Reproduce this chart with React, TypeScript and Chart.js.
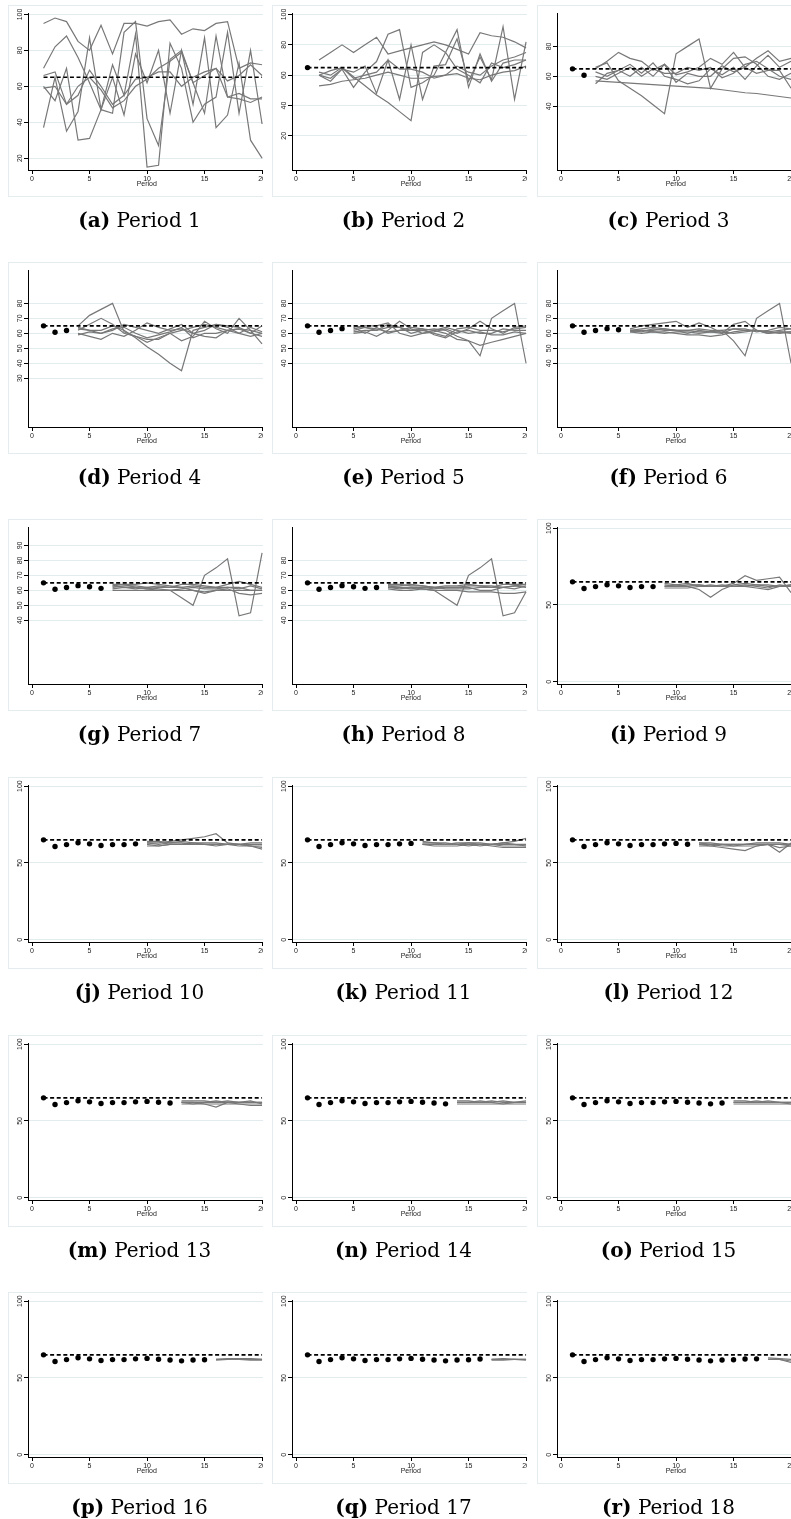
import React, { useEffect, useRef } from "react";
import { Chart, registerables } from "chart.js";
Chart.register(...registerables);

// ---------- data ----------
const X_TICKS = [0, 5, 10, 15, 20];
const TARGET = 65;
// mean of all players, periods 1..17
const AVG = [65, 60.7, 61.9, 63.1, 62.4, 61.3, 61.9, 61.9, 62.4, 62.7, 62.1, 61.6, 61.1, 61.6, 61.8, 62.3, 62.4];

const YT_A = [20, 40, 60, 80, 100];
const YT_C = [40, 60, 80];
const YT_D = [30, 40, 50, 60, 70, 80];
const YT_E = [40, 50, 60, 70, 80];
const YT_G = [40, 50, 60, 70, 80, 90];
const YT_I = [0, 50, 100];

// individual paths, each starting at the panel's period
const P1 = [
  [95, 98, 96, 85, 80, 94, 78, 95, 95, 93.5, 96, 97, 89, 92, 91, 95, 96, 70, 73, 72],
  [70, 82, 88, 76, 62, 47, 45, 90, 96, 42, 27, 75, 80, 62, 66, 70, 54, 53, 51, 54],
  [37, 65, 35, 46, 87, 47, 72, 55, 89, 15, 16, 84, 70, 40, 50, 54, 90, 45, 80, 39],
  [60, 52, 70, 30, 31, 47, 65, 44, 78, 62, 80, 45, 80, 50, 87, 37, 44, 73, 30, 20],
  [59, 60, 50, 55, 69, 60, 50, 55, 64, 65, 68, 68, 60, 65, 68, 70, 63, 66, 72, 66],
  [66, 68, 50, 60, 65, 58, 48, 52, 60, 64, 70, 74, 79, 62, 45, 88, 54, 56, 53, 53],
];
const P2 = [
  [70, 75, 80, 75, 80, 85, 74, 76, 78, 80, 82, 80, 77, 74, 88, 86, 85, 82, 78],
  [60, 56, 64, 52, 62, 69, 87, 90, 52, 55, 60, 75, 90, 52, 74, 56, 68, 70, 70],
  [62, 60, 65, 59, 53, 47, 42, 36, 30, 75, 80, 75, 64, 60, 55, 68, 65, 67, 70],
  [60, 58, 64, 62, 66, 48, 70, 44, 80, 44, 66, 67, 84, 56, 72, 57, 92, 44, 82],
  [53, 54, 56, 57, 58, 60, 62, 60, 58, 58, 59, 60, 61, 58, 57, 60, 62, 63, 66],
  [60, 63, 65, 58, 60, 62, 70, 64, 64, 62, 58, 60, 66, 62, 60, 66, 70, 72, 75],
];
const P3 = [
  [57, 56.5, 56, 55.5, 55, 54.5, 54, 53.5, 53, 52.5, 52, 51, 50, 49, 48.5, 47.5, 46.5, 45.5],
  [66, 69, 57, 52, 47, 41, 35, 75, 80, 85, 52, 65, 72, 73, 68, 60, 58, 62],
  [65, 70, 76, 72, 70, 64, 68, 61, 63, 66, 72, 68, 76, 66, 72, 77, 70, 72],
  [63, 60, 64, 68, 62, 69, 60, 58, 55, 57, 65, 61, 66, 58, 67, 74, 66, 70],
  [55, 62, 64, 60, 66, 60, 68, 56, 62, 60, 60, 67, 63, 66, 62, 64, 64, 52],
  [60, 58, 62, 66, 60, 65, 62, 62, 66, 64, 66, 59, 62, 68, 70, 65, 60, 58],
];
const P4 = [
  [65, 72, 76, 80, 61, 58, 56, 56, 60, 62, 64, 66, 64, 62, 63, 62, 60],
  [63, 62, 62, 65, 62, 57, 51, 46, 40, 35, 62, 64, 66, 65, 64, 60, 58],
  [62, 66, 70, 66, 60, 58, 54, 57, 60, 55, 58, 68, 63, 60, 70, 62, 53],
  [60, 58, 56, 60, 58, 62, 67, 64, 62, 63, 60, 58, 57, 62, 63, 60, 65],
  [64, 62, 60, 62, 66, 64, 62, 60, 63, 66, 60, 62, 66, 64, 60, 64, 61],
  [59, 61, 60, 63, 64, 60, 57, 59, 61, 64, 57, 60, 60, 62, 60, 58, 60],
];
const P5 = [
  [62, 64, 62, 66, 64, 62, 62, 63, 62, 58, 55, 45, 70, 75, 80, 40],
  [60, 61, 58, 62, 68, 63, 60, 62, 60, 56, 55, 52, 54, 56, 58, 60],
  [63, 65, 65, 67, 60, 58, 60, 61, 63, 60, 63, 68, 63, 60, 64, 65],
  [64, 60, 64, 60, 62, 64, 63, 62, 64, 62, 60, 61, 59, 59, 61, 60],
  [61, 62, 62, 64, 64, 60, 62, 60, 58, 63, 64, 62, 62, 61, 63, 64],
  [65, 64, 63, 61, 62, 62, 63, 59, 57, 61, 62, 60, 60, 63, 62, 62],
];
const P6 = [
  [62, 63, 64, 63, 62, 62, 63, 62, 62, 55, 45, 70, 75, 80, 40],
  [63, 65, 66, 67, 68, 64, 67, 64, 60, 66, 68, 62, 61, 62, 63],
  [62, 62, 62, 63, 62, 60, 62, 61, 60, 63, 62, 62, 60, 61, 61],
  [61, 62, 61, 61, 60, 59, 59, 58, 59, 61, 62, 62, 61, 60, 61],
  [62, 61, 63, 62, 62, 62, 61, 61, 62, 63, 63, 61, 62, 64, 63],
  [61, 60, 61, 60, 61, 61, 60, 61, 61, 60, 61, 62, 60, 61, 60],
];
const P7 = [
  [63, 62, 62, 61, 60, 60, 55, 50, 70, 75, 81, 43, 45, 85],
  [60, 60, 60, 60, 60, 60, 60, 60, 59, 60, 60, 60, 60, 60],
  [64, 64, 64, 65, 64, 63, 62, 60, 58, 60, 61, 58, 57, 58],
  [62, 63, 63, 62, 63, 62, 62, 63, 62, 62, 64, 66, 64, 62],
  [63, 64, 62, 61, 62, 62, 64, 64, 63, 62, 62, 62, 60, 60],
  [61, 62, 61, 62, 61, 60, 61, 62, 61, 61, 62, 61, 63, 61],
];
const P8 = [
  [62, 61, 62, 61, 60, 55, 50, 70, 75, 81, 43, 45, 59],
  [61, 60, 60, 61, 60, 60, 60, 59, 59, 59, 58, 58, 59],
  [63, 63, 64, 63, 62, 62, 62, 62, 60, 60, 62, 63, 62],
  [64, 64, 63, 63, 62, 63, 63, 64, 63, 63, 62, 63, 64],
  [62, 62, 61, 62, 62, 61, 61, 61, 62, 62, 64, 64, 64],
  [63, 62, 62, 62, 61, 62, 62, 63, 63, 62, 62, 61, 63],
];
const P9 = [
  [63, 62, 62, 60, 55, 60, 63, 64, 63, 62, 62, 63],
  [62, 63, 62, 63, 62, 62, 64, 69, 66, 67, 68, 58],
  [61, 61, 61, 62, 62, 62, 62, 62, 61, 60, 62, 63],
  [64, 63, 64, 62, 63, 62, 62, 63, 62, 61, 63, 62],
  [62, 62, 63, 63, 62, 63, 62, 62, 63, 63, 62, 62],
];
const P10 = [
  [63, 63, 64, 65, 66, 67, 69, 63, 62, 61, 59],
  [62, 61, 62, 62, 63, 62, 62, 62, 62, 62, 62],
  [64, 64, 63, 63, 62, 62, 61, 62, 62, 63, 63],
  [63, 62, 63, 64, 63, 63, 63, 62, 61, 61, 61],
  [61, 61, 62, 62, 62, 62, 62, 62, 62, 61, 60],
];
const P11 = [
  [62, 62, 62, 63, 63, 62, 62, 63, 64, 66],
  [63, 63, 63, 62, 62, 62, 62, 62, 62, 61],
  [62, 61, 61, 61, 62, 61, 62, 61, 61, 61],
  [64, 63, 62, 62, 63, 63, 62, 63, 62, 62],
  [62, 62, 62, 62, 61, 62, 61, 60, 60, 60],
];
const P12 = [
  [62, 61, 60, 59, 58, 61, 62, 60, 61],
  [63, 63, 62, 62, 62, 62, 62, 57, 63],
  [62, 62, 62, 61, 62, 62, 62, 62, 62],
  [61, 61, 62, 62, 62, 63, 63, 63, 62],
  [63, 62, 61, 61, 61, 61, 62, 62, 61],
];
const P13 = [
  [62, 62, 61, 59, 62, 62, 62, 62],
  [61, 61, 61, 61, 61, 61, 60, 60],
  [63, 63, 63, 62, 63, 62, 62, 62],
  [62, 62, 62, 63, 62, 61, 61, 61],
  [62, 61, 62, 62, 62, 62, 63, 61],
];
const P14 = [
  [62, 62, 62, 63, 62, 62, 62],
  [61, 61, 61, 61, 61, 61, 61],
  [63, 63, 62, 62, 63, 62, 63],
  [62, 62, 63, 62, 61, 62, 62],
];
const P15 = [
  [62, 62, 62, 62, 62, 62],
  [61, 61, 61, 61, 61, 61],
  [63, 63, 62, 63, 62, 62],
  [62, 62, 63, 62, 62, 61],
];
const P16 = [
  [62, 62.5, 62.5, 62.5, 62],
  [61.5, 62, 62, 62, 62],
  [62, 62, 62, 61.5, 61.5],
];
const P17 = [
  [62, 62, 62, 62],
  [61.5, 61.5, 62, 62],
  [62, 62.5, 62, 61.5],
];
const P18 = [
  [62, 62, 61],
  [63, 62.5, 62],
  [62, 62, 60],
];

const LETTERS = ["a", "b", "c", "d", "e", "f", "g", "h", "i", "j", "k", "l", "m", "n", "o", "p", "q", "r"];
const LINES = [P1, P2, P3, P4, P5, P6, P7, P8, P9, P10, P11, P12, P13, P14, P15, P16, P17, P18];
const Y_TICKS = [YT_A, YT_A, YT_C, YT_D, YT_E, YT_E, YT_G, YT_E, YT_I, YT_I, YT_I, YT_I, YT_I, YT_I, YT_I, YT_I, YT_I, YT_I];
const Y_MIN = [13.4, -2.5, -2.6, -2.6, -2.6, -2.6, -2.6, -2.6, -1.5, -1.5, -1.5, -1.5, -1.5, -1.5, -1.5, -1.5, -1.5, -1.5];
const Y_MAX = [100.8, 101, 102.3, 102.3, 102.3, 102.3, 102.3, 102.3, 100.7, 100.7, 100.7, 100.7, 100.7, 100.7, 100.7, 100.7, 100.7, 100.7];

// ---------- layout ----------
const COL_LEFT = [8, 272, 537];
const ROW_TOP = [5, 262, 519, 777, 1035, 1292];
const PANEL_W = 255;
const PANEL_H = 192;
const CANVAS_W = 300;
const TICK_FONT = '"Liberation Sans", Arial, sans-serif';

function yLabelPlugin(ticks: number[]) {
  return {
    id: "yRotLabels",
    afterDraw(chart: any) {
      const s = chart.scales.y;
      const ctx = chart.ctx;
      ctx.save();
      ctx.font = `7px ${TICK_FONT}`;
      ctx.fillStyle = "#222";
      ctx.textAlign = "center";
      ctx.textBaseline = "middle";
      for (const v of ticks) {
        const py = s.getPixelForValue(v);
        ctx.save();
        ctx.translate(12, py);
        ctx.rotate(-Math.PI / 2);
        ctx.fillText(String(v), 0, 0);
        ctx.restore();
      }
      ctx.restore();
    },
  };
}

function Panel({ idx }: { idx: number }) {
  const ref = useRef<HTMLCanvasElement | null>(null);
  const period = idx + 1;
  const left = COL_LEFT[idx % 3];
  const top = ROW_TOP[Math.floor(idx / 3)];

  useEffect(() => {
    if (!ref.current) return;
    const datasets: any[] = [];
    datasets.push({
      label: "target",
      data: [
        { x: 1, y: TARGET },
        { x: 20, y: TARGET },
      ],
      borderColor: "#000",
      borderWidth: 1.6,
      borderDash: [4, 2.6],
      pointRadius: 0,
    });
    if (period > 1) {
      datasets.push({
        label: "mean",
        data: AVG.slice(0, period - 1).map((v, i) => ({ x: i + 1, y: v })),
        showLine: false,
        pointRadius: 2.7,
        pointBackgroundColor: "#000",
        pointBorderColor: "#000",
        pointBorderWidth: 0,
      });
    }
    LINES[idx].forEach((l, k) => {
      datasets.push({
        label: "s" + k,
        data: l.map((v, i) => ({ x: period + i, y: v })),
        borderColor: "#787878",
        borderWidth: 1.2,
        pointRadius: 0,
      });
    });
    const yt = Y_TICKS[idx];
    const chart = new Chart(ref.current, {
      type: "line",
      data: { datasets },
      options: {
        animation: false,
        responsive: false,
        devicePixelRatio: 1,
        layout: { padding: { left: 0, top: 8, right: 42.5, bottom: 0 } },
        plugins: { legend: { display: false }, tooltip: { enabled: false } },
        elements: { line: { tension: 0 } },
        scales: {
          x: {
            type: "linear",
            min: -0.35,
            max: 20.3,
            afterBuildTicks: (s: any) => {
              s.ticks = X_TICKS.map((v) => ({ value: v }));
            },
            afterFit: (s: any) => {
              s.height = 27;
            },
            grid: { drawOnChartArea: false, drawTicks: true, tickLength: 4, tickColor: "#000", lineWidth: 1 },
            border: { display: true, color: "#000", width: 1 },
            ticks: { font: { size: 7, family: TICK_FONT }, color: "#222", padding: 1, maxRotation: 0, autoSkip: false },
            title: {
              display: true,
              text: "Period",
              font: { size: 7, family: TICK_FONT },
              color: "#222",
              padding: { top: 0, bottom: 8.5 },
            },
          },
          y: {
            type: "linear",
            min: Y_MIN[idx],
            max: Y_MAX[idx],
            afterBuildTicks: (s: any) => {
              s.ticks = yt.map((v) => ({ value: v }));
            },
            afterFit: (s: any) => {
              s.width = 20;
            },
            grid: { color: "#e2ebee", lineWidth: 1, drawTicks: true, tickLength: 4, tickColor: "#000" },
            border: { display: true, color: "#000", width: 1 },
            ticks: { display: false },
          },
        },
      },
      plugins: [yLabelPlugin(yt)],
    } as any);
    return () => chart.destroy();
  }, []);

  return (
    <>
      <div
        style={{
          position: "absolute",
          left,
          top,
          width: PANEL_W,
          height: PANEL_H,
          overflow: "hidden",
          background: "#fff",
        }}
      >
        <canvas ref={ref} width={CANVAS_W} height={PANEL_H} style={{ display: "block", width: CANVAS_W, height: PANEL_H }} />
      </div>
      <div
        style={{
          position: "absolute",
          left,
          top,
          width: PANEL_W,
          height: PANEL_H,
          boxSizing: "border-box",
          borderLeft: "1px solid #e4ecef",
          borderTop: "1px solid #e4ecef",
          borderBottom: "1px solid #e4ecef",
          pointerEvents: "none",
        }}
      />
      <div
        style={{
          position: "absolute",
          left: left + 131.5 - 130,
          top: top + 215 - 11,
          width: 260,
          height: 22,
          lineHeight: "22px",
          textAlign: "center",
          fontFamily: '"DejaVu Serif", serif',
          fontSize: 20,
          color: "#000",
          whiteSpace: "nowrap",
        }}
      >
        <span style={{ fontWeight: "bold" }}>({LETTERS[idx]})</span> Period {period}
      </div>
    </>
  );
}

export default function App() {
  return (
    <div style={{ position: "absolute", left: 0, top: 0, width: 791, height: 1519, background: "#fff", overflow: "hidden" }}>
      {LINES.map((_, i) => (
        <Panel key={i} idx={i} />
      ))}
    </div>
  );
}
